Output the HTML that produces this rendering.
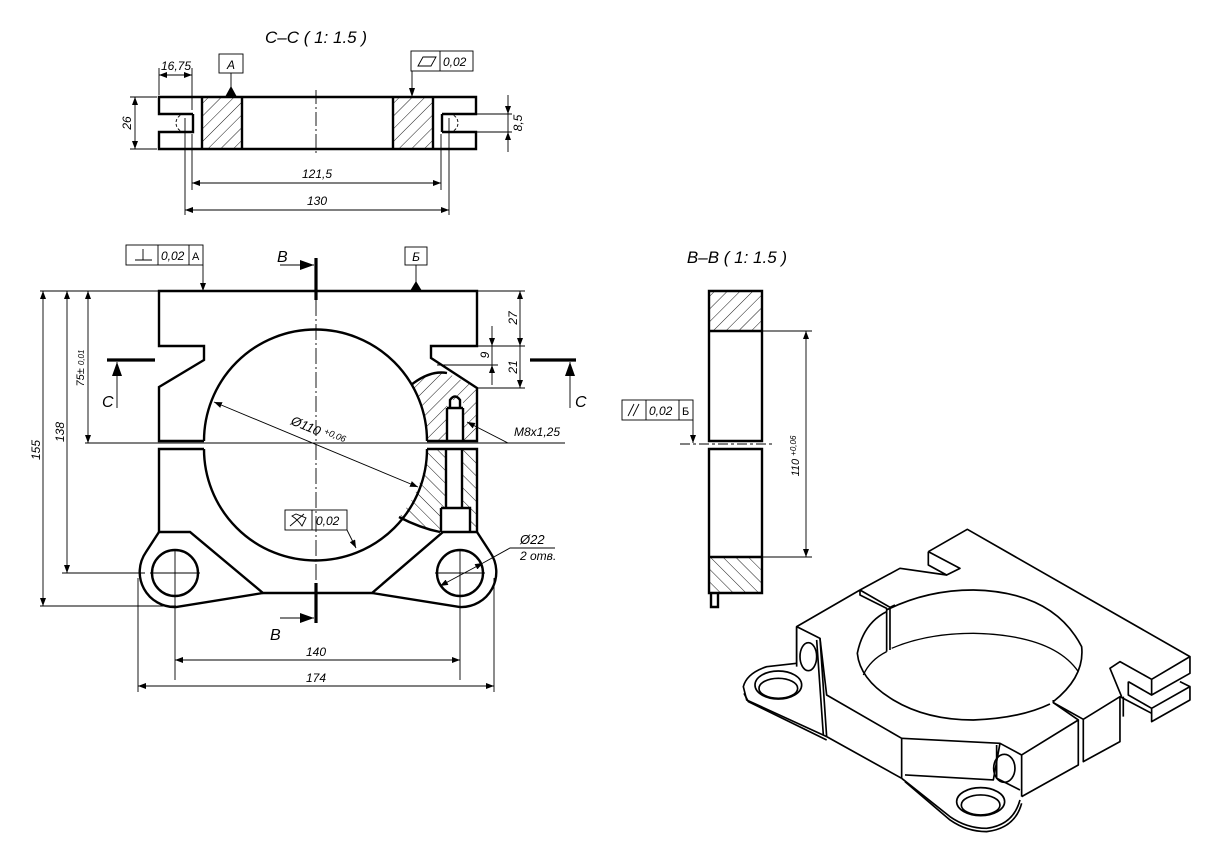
<!DOCTYPE html>
<html><head><meta charset="utf-8"><style>
html,body{margin:0;padding:0;background:#fff;}
svg{display:block;}
text{font-family:"Liberation Sans","DejaVu Sans",sans-serif;font-style:italic;fill:#000;}
</style></head><body>
<svg width="1219" height="858" viewBox="0 0 1219 858" xmlns="http://www.w3.org/2000/svg">
<defs>
<pattern id="h1" patternUnits="userSpaceOnUse" width="9" height="9" patternTransform="rotate(45)">
<line x1="0" y1="0" x2="0" y2="9" stroke="#000" stroke-width="0.9"/></pattern>
<pattern id="h2" patternUnits="userSpaceOnUse" width="9" height="9" patternTransform="rotate(-45)">
<line x1="0" y1="0" x2="0" y2="9" stroke="#000" stroke-width="0.9"/></pattern>
<marker id="ar" markerWidth="8" markerHeight="6" refX="8" refY="3" orient="auto" markerUnits="userSpaceOnUse"><path d="M0,0 L8,3 L0,6 Z"/></marker>
<marker id="al" markerWidth="8" markerHeight="6" refX="0" refY="3" orient="auto" markerUnits="userSpaceOnUse"><path d="M8,0 L0,3 L8,6 Z"/></marker>
<marker id="big" markerWidth="14" markerHeight="10" refX="14" refY="5" orient="auto" markerUnits="userSpaceOnUse"><path d="M0,0 L14,5 L0,10 Z"/></marker>
</defs>

<!-- ===== C-C section ===== -->
<text x="316" y="43" font-size="17" text-anchor="middle">C–C ( 1: 1.5 )</text>
<rect x="202" y="97" width="40" height="52" fill="url(#h1)"/>
<rect x="393" y="97" width="40" height="52" fill="url(#h1)"/>
<g fill="none" stroke="#000" stroke-width="2.4">
<path d="M193,114 H159 V97 H476 V114 H442 M442,132 H476 V149 H159 V132 H193 V114"/>
<path d="M442,114 V132"/>
<path d="M202,97 V149 M242,97 V149 M393,97 V149 M433,97 V149"/>
</g>
<g fill="none" stroke="#000" stroke-width="0.9">
<path d="M185,114 A9,9 0 0 0 185,132" stroke-dasharray="3,2"/>
<path d="M449,114 A9,9 0 0 1 449,132" stroke-dasharray="3,2"/>
<path d="M316,90 V155" stroke-dasharray="14,3,2,3"/>
<path d="M159,95 V68 M192,110 V68"/>
<path d="M159,75 H192" marker-start="url(#al)" marker-end="url(#ar)"/>
<path d="M157,97 H130 M157,149 H130"/>
<path d="M135,97 V149" marker-start="url(#al)" marker-end="url(#ar)"/>
<path d="M476,114 H512 M476,132 H512"/>
<path d="M508,95 V114" marker-end="url(#ar)"/><path d="M508,152 V132" marker-end="url(#ar)"/><path d="M508,114 V132"/>
<path d="M192,134 V190 M441,134 V190"/>
<path d="M192,183 H441" marker-start="url(#al)" marker-end="url(#ar)"/>
<path d="M185,118 V215 M449,118 V215"/>
<path d="M185,210 H449" marker-start="url(#al)" marker-end="url(#ar)"/>
<rect x="219" y="54" width="24" height="19"/>
<path d="M231,73 V90"/>
<rect x="411" y="51" width="62" height="20"/><path d="M440,51 V71"/>
<path d="M412,71 V90"/>
<path d="M418,66 L423,57 H436 L431,66 Z"/>
</g>
<path d="M225,97 L231,86 L237,97 Z"/>
<path d="M409,88 L412,97 L415,88 Z"/>
<text x="231" y="69" font-size="12" text-anchor="middle">A</text>
<text x="443" y="66" font-size="12">0,02</text>
<text x="176" y="70" font-size="12" text-anchor="middle">16,75</text>
<text x="317" y="178" font-size="12" text-anchor="middle">121,5</text>
<text x="317" y="205" font-size="12" text-anchor="middle">130</text>
<text transform="translate(131,123) rotate(-90)" font-size="12" text-anchor="middle">26</text>
<text transform="translate(522,123) rotate(-90)" font-size="12" text-anchor="middle">8,5</text>

<!-- ===== Main view ===== -->
<path d="M411,385 Q430,370 447,373 L477,388 L477,441 L427,441 A111,111 0 0 0 411,385 Z" fill="url(#h1)"/>
<path d="M427,449 L477,449 L477,532 L440,532 Q420,528 399,517 A111,111 0 0 0 427,449 Z" fill="url(#h2)"/>
<rect x="447" y="400" width="16" height="41" fill="#fff"/>
<rect x="446" y="449" width="16" height="59" fill="#fff"/>
<rect x="441" y="508" width="29" height="24" fill="#fff"/>
<g fill="none" stroke="#000" stroke-width="2.4">
<path d="M204,441 H159 V387 L204,360 V346 H159 V291 H477 V346 H431 V358 L477,388 V441 H427"/>
<path d="M204,449 H159 V532 H190 L263,593 H372 L443,532 H477 V449 H427"/>
<path d="M204,441 A111,111 0 0 1 427,441"/>
<path d="M204,449 A111,111 0 0 0 427,449"/>
<path d="M159,532 L146,552 A35,35 0 0 0 176,607 L263,593"/>
<path d="M477,532 L490,552 A35,35 0 0 1 460,607 L372,593"/>
<circle cx="175" cy="573" r="23"/>
<circle cx="460" cy="573" r="23"/>
<path d="M411,385 Q430,370 447,373"/>
<path d="M399,517 Q420,528 440,532"/>
<path d="M450,408 V400 Q455,393 460,400 V408 M447,408 V441 M463,408 V441 M447,408 H463"/>
<path d="M446,449 V508 M462,449 V508 M441,508 H470 V532 M441,508 V532"/>
</g>
<g fill="none" stroke="#000" stroke-width="0.9">
<path d="M316,300 V585" stroke-dasharray="16,3,2,3"/>
<path d="M85,443 H530"/>
<path d="M150,573 H200 M175,550 V680 M435,573 H485 M460,550 V680"/>
<path d="M40,291 H159 M62,573 H145 M40,606 H176"/>
<path d="M43,291 V606" marker-start="url(#al)" marker-end="url(#ar)"/>
<path d="M67,291 V573" marker-start="url(#al)" marker-end="url(#ar)"/>
<path d="M88,291 V443" marker-start="url(#al)" marker-end="url(#ar)"/>
<path d="M175,660 H460" marker-start="url(#al)" marker-end="url(#ar)"/>
<path d="M138,578 V692 M494,578 V692"/>
<path d="M138,686 H494" marker-start="url(#al)" marker-end="url(#ar)"/>
<path d="M477,291 H525 M431,346 H525 M437,365 H498 M477,388 H525"/>
<path d="M520,291 V388" marker-start="url(#al)"/><path d="M520,330 V346" marker-end="url(#ar)"/><path d="M520,370 V388" marker-end="url(#ar)"/>
<path d="M492,326 V346" marker-end="url(#ar)"/><path d="M492,385 V365" marker-end="url(#ar)"/><path d="M492,346 V365"/>
<path d="M214,402 L418,487" marker-start="url(#al)" marker-end="url(#ar)"/>
<path d="M565,443 H508 L467,422" marker-end="url(#ar)"/>
<path d="M555,548 H510 L483,563"/><path d="M483,563 L440,586" marker-start="url(#al)" marker-end="url(#ar)"/>
<rect x="126" y="245" width="77" height="20"/><path d="M158,245 V265 M189,245 V265"/>
<path d="M135,260 H152 M143,249 V260"/>
<path d="M203,265 V291" marker-end="url(#ar)"/>
<rect x="405" y="247" width="22" height="18"/><path d="M416,265 V282"/>
<rect x="285" y="510" width="62" height="20"/><path d="M312,510 V530"/>
<path d="M347,530 L352,540 L356,548" marker-end="url(#ar)"/>
<path d="M290,526 L304,514 M292,516 Q298,520 302,526 L306,518 L296,514 Z"/>
<path d="M280,265 H314" marker-end="url(#big)"/>
<path d="M280,618 H314" marker-end="url(#big)"/>
<path d="M117,408 V362" marker-end="url(#big)"/>
<path d="M570,408 V362" marker-end="url(#big)"/>
</g>
<g stroke="#000" stroke-width="3.2">
<path d="M316,258 V300 M316,583 V623 M107,360 H155 M530,360 H576"/>
</g>
<path d="M410,291 L416,281 L422,291 Z"/>
<text x="277" y="262" font-size="16">B</text>
<text x="270" y="640" font-size="16">B</text>
<text x="102" y="407" font-size="16">C</text>
<text x="575" y="407" font-size="16">C</text>
<text x="161" y="260" font-size="12">0,02</text>
<text x="192" y="260" font-size="11" style="font-style:normal">A</text>
<text x="416" y="261" font-size="12" text-anchor="middle">Б</text>
<text x="316" y="525" font-size="12">0,02</text>
<text transform="translate(290,424) rotate(22.6)" font-size="13">Ø110 <tspan font-size="9" dy="-4">+0,06</tspan></text>
<text x="514" y="436" font-size="12">M8x1,25</text>
<text x="520" y="544" font-size="13">Ø22</text>
<text x="520" y="560" font-size="12">2 отв.</text>
<text x="316" y="656" font-size="12" text-anchor="middle">140</text>
<text x="316" y="682" font-size="12" text-anchor="middle">174</text>
<text transform="translate(40,450) rotate(-90)" font-size="12" text-anchor="middle">155</text>
<text transform="translate(64,432) rotate(-90)" font-size="12" text-anchor="middle">138</text>
<text transform="translate(84,368) rotate(-90)" font-size="11" text-anchor="middle">75± <tspan font-size="8">0,01</tspan></text>
<text transform="translate(517,318) rotate(-90)" font-size="12" text-anchor="middle">27</text>
<text transform="translate(489,355) rotate(-90)" font-size="12" text-anchor="middle">9</text>
<text transform="translate(517,367) rotate(-90)" font-size="12" text-anchor="middle">21</text>

<!-- ===== B-B section ===== -->
<text x="737" y="263" font-size="17" text-anchor="middle">B–B ( 1: 1.5 )</text>
<rect x="709" y="291" width="53" height="40" fill="url(#h1)"/>
<rect x="709" y="557" width="53" height="36" fill="url(#h2)"/>
<g fill="none" stroke="#000" stroke-width="2.4">
<path d="M709,291 H762 V441 H709 Z M709,331 H762"/>
<path d="M709,449 H762 V593 H709 Z M709,557 H762"/>
<path d="M711,593 V607 H718 V593"/>
</g>
<g fill="none" stroke="#000" stroke-width="0.9">
<path d="M680,444 H775" stroke-dasharray="10,3,3,3"/>
<path d="M762,331 H812 M762,557 H812"/>
<path d="M806,331 V557" marker-start="url(#al)" marker-end="url(#ar)"/>
<rect x="622" y="400" width="71" height="20"/><path d="M646,400 V420 M679,400 V420"/>
<path d="M628,416 L634,404 M633,416 L639,404"/>
<path d="M693,420 V443" marker-end="url(#ar)"/>
</g>
<text x="649" y="415" font-size="12">0,02</text>
<text x="682" y="415" font-size="11" style="font-style:normal">Б</text>
<text transform="translate(799,456) rotate(-90)" font-size="11" text-anchor="middle">110 <tspan font-size="8" dy="-3">+0,06</tspan></text>

<!-- ===== Isometric ===== -->
<g transform="translate(720,520) scale(0.3333)" fill="none" stroke="#000" stroke-width="5" stroke-linejoin="round">
<path d="M625,95 L742,28 L1410,410 L1410,460 L1295,525 L1295,478 L1200,425 L1170,445 L1205,530"/>
<path d="M1295,478 L1410,410"/>
<path d="M625,95 L625,135 L680,165 L720,145 L625,95"/>
<path d="M680,165 L540,145 L420,210 L230,320 L230,430"/>
<path d="M420,210 L420,225 L500,265 L500,395 M420,210 L510,262 L510,390 M510,262 L525,255"/>
<path d="M1225,485 L1225,525 L1295,565 L1410,500 L1410,540 L1295,605 L1295,565 M1225,485 L1295,525"/>
<path d="M1380,485 L1410,500"/>
<path d="M230,320 L300,355 L320,650 M230,320 L230,440 M290,360 L310,645"/>
<path d="M300,355 L320,525 L545,655 L545,775"/>
<path d="M545,655 L840,670 L905,705 L1075,600 L1000,548 L1000,540"/>
<path d="M905,705 L905,830 M1075,600 L1075,735 L905,830"/>
<path d="M1090,598 L1200,530 L1200,665 L1090,725 L1090,598 M1000,548 L1090,598"/>
<path d="M1210,530 L1210,590 M1200,530 L1295,580"/>
<path d="M320,650 L545,775 M555,765 L820,780 L840,670"/>
<path d="M230,430 L140,440 Q80,460 70,500 L80,540 L320,650"/>
<path d="M72,520 L85,545 L320,660"/>
<path d="M545,775 L690,890 Q740,925 800,925 Q880,915 900,840"/>
<path d="M555,785 L690,900 Q740,935 800,935 Q885,925 905,850"/>
<ellipse cx="175" cy="495" rx="70" ry="42"/>
<ellipse cx="175" cy="505" rx="58" ry="30"/>
<ellipse cx="782" cy="845" rx="72" ry="42"/>
<ellipse cx="782" cy="855" rx="58" ry="30"/>
<ellipse cx="265" cy="410" rx="25" ry="42"/>
<ellipse cx="853" cy="745" rx="32" ry="42"/>
<path d="M830,675 L830,775 L900,810"/>
<path d="M500,270 Q620,210 760,210 Q1000,215 1085,380 Q1095,470 1000,545"/>
<path d="M500,275 Q430,310 412,400 Q420,480 520,540 Q620,600 760,600 Q900,595 990,552"/>
<path d="M515,385 Q620,340 760,340 Q1000,345 1075,455" stroke-width="4"/>
<path d="M500,395 Q450,420 430,465" stroke-width="4"/>
</g>
</svg>
</body></html>
